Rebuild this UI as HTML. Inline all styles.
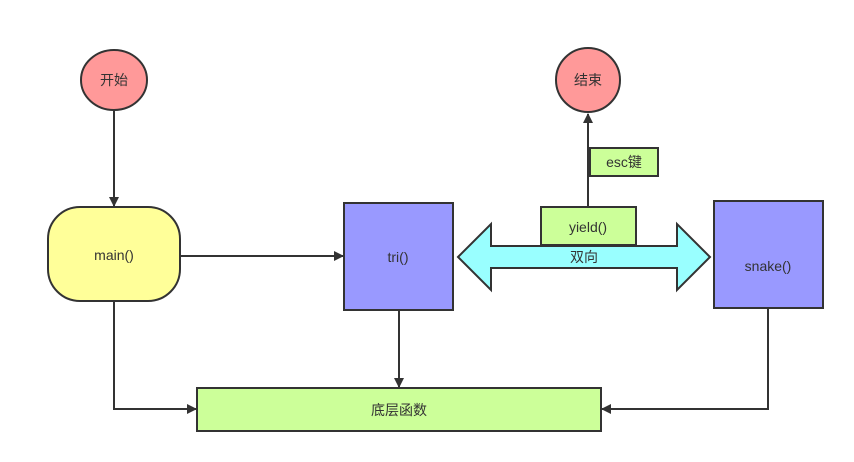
<!DOCTYPE html>
<html><head><meta charset="utf-8"><style>
html,body{margin:0;padding:0;background:#fff;}
svg{display:block;}
text{font-family:"Liberation Sans","Noto Sans CJK SC",sans-serif;font-size:14px;fill:#333;text-anchor:middle;dominant-baseline:central;}
</style></head><body>
<svg width="854" height="462" viewBox="0 0 854 462" xmlns="http://www.w3.org/2000/svg">
<defs>
<marker id="a" markerWidth="10" markerHeight="10" refX="9" refY="5" orient="auto" markerUnits="userSpaceOnUse">
<path d="M0,0 L10,5 L0,10 Z" fill="#333"/></marker>
</defs>
<g stroke="#333" stroke-width="2" fill="none">
<line x1="114" y1="111" x2="114" y2="206" marker-end="url(#a)"/>
<line x1="180" y1="256" x2="343" y2="256" marker-end="url(#a)"/>
<polyline points="114,301 114,409 196,409" marker-end="url(#a)"/>
<line x1="399" y1="310" x2="399" y2="387" marker-end="url(#a)"/>
<polyline points="768,308 768,409 602,409" marker-end="url(#a)"/>
<line x1="588" y1="207" x2="588" y2="114" marker-end="url(#a)"/>
</g>
<ellipse cx="114" cy="80" rx="33" ry="30" fill="#ff9999" stroke="#333" stroke-width="2"/>
<text x="114" y="80">开始</text>
<circle cx="588" cy="80" r="32" fill="#ff9999" stroke="#333" stroke-width="2"/>
<text x="588" y="80">结束</text>
<rect x="590" y="148" width="68" height="28" fill="#ccff99" stroke="#333" stroke-width="2"/>
<text x="624" y="162">esc键</text>
<rect x="48" y="207" width="132" height="94" rx="32" ry="32" fill="#ffff99" stroke="#333" stroke-width="2"/>
<text x="114" y="255">main()</text>
<rect x="344" y="203" width="109" height="107" fill="#9999ff" stroke="#333" stroke-width="2"/>
<text x="398" y="257">tri()</text>
<rect x="714" y="201" width="109" height="107" fill="#9999ff" stroke="#333" stroke-width="2"/>
<text x="768" y="266">snake()</text>
<rect x="541" y="207" width="95" height="38" fill="#ccff99" stroke="#333" stroke-width="2"/>
<text x="588" y="227">yield()</text>
<path d="M458,257 L491,224 L491,246 L677,246 L677,224 L710,257 L677,290 L677,268 L491,268 L491,290 Z" fill="#99ffff" stroke="#333" stroke-width="2"/>
<text x="584" y="257">双向</text>
<rect x="197" y="388" width="404" height="43" fill="#ccff99" stroke="#333" stroke-width="2"/>
<text x="399" y="410">底层函数</text>
</svg>
</body></html>
